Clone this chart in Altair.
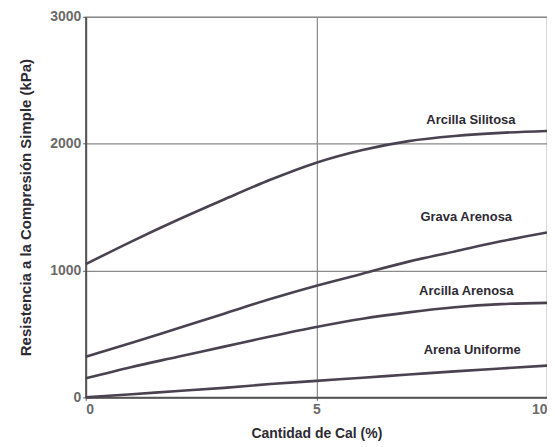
import altair as alt
import pandas as pd

cal = [0, 1, 2, 3, 4, 5, 6, 7, 8, 9, 10]
arcilla_silitosa = [1050, 1230, 1400, 1560, 1715, 1850, 1950, 2020, 2060, 2085, 2100]
grava_arenosa = [320, 430, 545, 660, 775, 880, 975, 1070, 1150, 1230, 1300]
arcilla_arenosa = [150, 240, 320, 400, 480, 555, 620, 670, 710, 735, 745]
arena_uniforme = [0, 25, 50, 75, 105, 130, 155, 180, 205, 228, 250]

series = {
    "Arcilla Silitosa": arcilla_silitosa,
    "Grava Arenosa": grava_arenosa,
    "Arcilla Arenosa": arcilla_arenosa,
    "Arena Uniforme": arena_uniforme,
}
rows = []
for name, vals in series.items():
    for xv, yv in zip(cal, vals):
        rows.append({"cal": xv, "res": yv, "suelo": name})
df = pd.DataFrame(rows)

label_names = ["Arcilla Silitosa", "Grava Arenosa", "Arcilla Arenosa", "Arena Uniforme"]
label_x = [8.35, 8.25, 8.25, 8.38]
label_y = [2190, 1420, 836, 375]
labels = pd.DataFrame({"name": label_names, "x": label_x, "y": label_y})

FONT = "Liberation Sans"
LINE = "#4a4250"

xs = alt.Scale(domain=[0, 10], nice=False)
ys = alt.Scale(domain=[0, 3000], nice=False)

lines = alt.Chart(df).mark_line(strokeWidth=2.6, color=LINE, interpolate="monotone").encode(
    x=alt.X("cal:Q", scale=xs, title="Cantidad de Cal (%)",
            axis=alt.Axis(values=[0, 5, 10], format="d", grid=True, gridColor="#8a8a8a", gridWidth=1.2,
                          domainColor="#555", domainWidth=2, tickColor="#555", tickSize=3,
                          labelFont=FONT, labelFontSize=14, labelFontWeight="bold",
                          labelColor="#6a6a6a", labelPadding=2,
                          titleFont=FONT, titleFontSize=14, titleFontWeight="bold",
                          titleColor="#2e2a33", titlePadding=10)),
    y=alt.Y("res:Q", scale=ys, title="Resistencia a la Compresión Simple (kPa)",
            axis=alt.Axis(values=[0, 1000, 2000, 3000], format="d", grid=True, gridColor="#8a8a8a", gridWidth=1.2,
                          domainColor="#555", domainWidth=2, tickColor="#555", tickSize=3,
                          labelFont=FONT, labelFontSize=14, labelFontWeight="bold",
                          labelColor="#6a6a6a", labelPadding=2,
                          titleFont=FONT, titleFontSize=15, titleFontWeight="bold",
                          titleColor="#2e2a33", titlePadding=16)),
    detail="suelo:N",
)

text = alt.Chart(labels).mark_text(font=FONT, fontSize=13, fontWeight="bold", color="#2e2a33").encode(
    x=alt.X("x:Q", scale=xs), y=alt.Y("y:Q", scale=ys), text="name:N"
)

chart = (lines + text).properties(
    width=463, height=382,
    autosize=alt.AutoSizeParams(type="none"),
    padding={"left": 78, "top": 8, "right": 0, "bottom": 50},
).configure_view(stroke="#9a9a9a", strokeWidth=1.2)

chart.save("out.html", embed_options={"renderer": "svg", "actions": False})
